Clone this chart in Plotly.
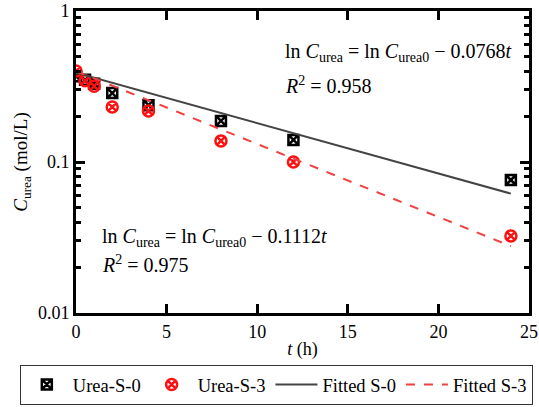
import numpy as np
import plotly.graph_objects as go

# Measured urea concentrations (mol/L) versus time (h)
t_s0 = [0, 0.5, 1, 2, 4, 8, 12, 24]
c_s0 = [0.37, 0.35, 0.33, 0.286, 0.238, 0.187, 0.140, 0.076]

t_s3 = [0, 0.5, 1, 2, 4, 8, 12, 24]
c_s3 = [0.40, 0.345, 0.318, 0.231, 0.218, 0.138, 0.100, 0.0324]

# First-order fits: ln C = ln C0 - k t
k_s0, c0_s0 = 0.0768, 0.39
k_s3, c0_s3 = 0.1112, 0.40
t_fit = [0, 24]

FONT = "Liberation Serif, Times New Roman, Times, serif"

fig = go.Figure()
fig.add_trace(go.Scatter(
    x=t_s0, y=c_s0, mode="markers", name="Urea-S-0",
    marker=dict(symbol="square-x-open", size=10, color="black",
                line=dict(width=2.5, color="black")),
))
fig.add_trace(go.Scatter(
    x=t_s3, y=c_s3, mode="markers", name="Urea-S-3",
    marker=dict(symbol="circle-x-open", size=11, color="#ff1010",
                line=dict(width=2.5, color="#ff1010")),
))
fig.add_trace(go.Scatter(
    x=t_fit, y=[c0_s0 * np.exp(-k_s0 * t) for t in t_fit], mode="lines",
    name="Fitted S-0", line=dict(color="#444444", width=2),
))
fig.add_trace(go.Scatter(
    x=t_fit, y=[c0_s3 * np.exp(-k_s3 * t) for t in t_fit], mode="lines",
    name="Fitted S-3", line=dict(color="#f04040", width=2, dash="dash"),
))

ann_font = dict(family=FONT, size=20, color="black")
annotations = [
    dict(x=11.4, y=-0.272, text="ln <i>C</i><sub>urea</sub> = ln <i>C</i><sub>urea0</sub> − 0.0768<i>t</i>"),
    dict(x=11.4, y=-0.49, text="<i>R</i><sup>2</sup> = 0.958"),
    dict(x=1.3, y=-1.497, text="ln <i>C</i><sub>urea</sub> = ln <i>C</i><sub>urea0</sub> − 0.1112<i>t</i>"),
    dict(x=1.3, y=-1.675, text="<i>R</i><sup>2</sup> = 0.975"),
]
for a in annotations:
    fig.add_annotation(xref="x", yref="y", xanchor="left", yanchor="middle",
                       showarrow=False, font=ann_font, **a)

axis_common = dict(
    showline=True, linecolor="black", linewidth=3, mirror="ticks",
    ticks="inside", tickcolor="black", tickwidth=3, ticklen=9,
    showgrid=False, zeroline=False,
    tickfont=dict(family=FONT, size=18, color="black"),
)

fig.update_xaxes(
    range=[0, 25], dtick=5, tick0=0,
    title=dict(text="<i>t</i> (h)", font=dict(family=FONT, size=18, color="black"), standoff=2),
    **axis_common,
)
fig.update_yaxes(
    type="log", range=[-2, 0],
    tickvals=[0.01, 0.1, 1], ticktext=["0.01", "0.1", "1"],
    minor=dict(ticks="inside", ticklen=5, tickwidth=2.5, tickcolor="black",
               dtick="D1", showgrid=False),
    title=dict(text="<i>C</i><sub>urea</sub> (mol/L)",
               font=dict(family=FONT, size=19, color="black"), standoff=6),
    **axis_common,
)

fig.update_layout(
    width=539, height=407,
    margin=dict(l=76, r=10, t=11, b=94, autoexpand=False),
    paper_bgcolor="white", plot_bgcolor="white",
    font=dict(family=FONT, size=18, color="black"),
    legend=dict(
        orientation="h", xref="paper", yref="paper",
        x=-0.124, xanchor="left", y=-0.172, yanchor="top",
        bordercolor="#333333", borderwidth=1, bgcolor="white",
        font=dict(family=FONT, size=18.5, color="black"),
        itemwidth=42, tracegroupgap=0,
    ),
    showlegend=True,
)

fig.write_html("out.html")
